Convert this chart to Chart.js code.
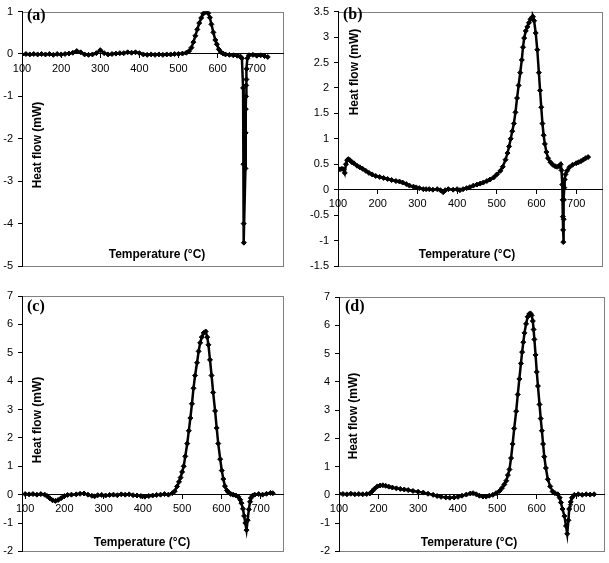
<!DOCTYPE html>
<html>
<head>
<meta charset="utf-8">
<script src="https://cdn.jsdelivr.net/npm/chart.js@4.4.0/dist/chart.umd.min.js"></script>
<style>
  html, body { margin: 0; padding: 0; background: #fff; }
  #wrap { position: relative; width: 609px; height: 563px; }
  canvas { position: absolute; }
</style>
</head>
<body>
<div id="wrap">
  <canvas id="ca" style="left:0;top:0" width="305" height="281"></canvas>
  <canvas id="cb" style="left:305px;top:0" width="304" height="281"></canvas>
  <canvas id="cc" style="left:0;top:281px" width="305" height="282"></canvas>
  <canvas id="cd" style="left:305px;top:281px" width="304" height="282"></canvas>
</div>
<script>
// axis text
const xTitle = 'Temperature (°C)';
const yTitle = 'Heat flow (mW)';
const panelTags = ['(a)', '(b)', '(c)', '(d)'];

// tick labels
const xTicks = [100, 200, 300, 400, 500, 600, 700];
const aYTicks = [-5, -4, -3, -2, -1, 0, 1];
const bYTicks = [-1.5, -1, -0.5, 0, 0.5, 1, 1.5, 2, 2.5, 3, 3.5];
const cdYTicks = [-2, -1, 0, 1, 2, 3, 4, 5, 6, 7];

// (a)
const aTemp = [
  100,110,120,130,140,150,160,170,180,190,
  200,210,220,230,240,250,260,270,280,290,
  300,310,320,330,340,350,360,370,380,390,
  400,410,420,430,440,450,460,470,480,490,
  500,510,520,527,533,538,543,548,553,558,
  563,568,572,576,580,584,589,594,598,603,
  608,614,620,630,640,650,658,662,665,666,
  666.5,667,671,671.5,672,672.5,673,673.5,674,676,
  680,690,700,710,720,728];
const aFlow = [
  -0.01,0,-0.01,0,-0.01,0,-0.01,0,-0.02,0,
  -0.01,0,0.01,0.03,0.07,0.04,-0.01,-0.02,-0.01,0.02,
  0.09,0.02,-0.01,0,0.01,0.02,0.02,0.04,0.03,0.04,
  0.02,-0.01,-0.02,-0.01,-0.02,-0.01,-0.02,-0.01,-0.01,0,
  0,0.01,0.03,0.07,0.15,0.28,0.43,0.58,0.73,0.85,
  0.95,0.99,1.0,0.96,0.86,0.7,0.51,0.33,0.23,0.11,
  0.05,0.01,-0.01,-0.02,-0.03,-0.04,-0.06,-0.1,-0.8,-2.6,
  -4.0,-4.45,-2.7,-1.86,-1.3,-1.0,-0.74,-0.6,-0.35,-0.1,
  -0.03,-0.02,-0.04,-0.03,-0.05,-0.07];

// (b)
const bTemp = [
  100,105,110,114,117,120,123,126,130,135,
  140,148,155,162,170,178,186,195,205,215,
  225,235,246,255,263,272,280,290,297,305,
  315,322,330,339,350,358,365,370,378,390,
  400,407,415,424,432,441,450,458,466,475,
  483,492,500,509,515,522,527,531,535,539,
  543,547,551,555,559,563,566,569,573,577,
  581,585,589,591,594,598,602,606,609,612,
  615,618,621,625,629,635,641,647,652,657,
  661,663,665,666,666.5,667,667.5,668.5,669,670,
  671,673,677,683,691,700,706,712,718,724,
  730];
const bFlow = [
  0.4,0.4,0.41,0.4,0.33,0.5,0.58,0.6,0.58,0.54,
  0.52,0.47,0.44,0.41,0.37,0.33,0.3,0.27,0.25,0.23,
  0.21,0.19,0.17,0.16,0.14,0.11,0.08,0.06,0.045,0.03,
  0.01,0.01,0.01,0,0.01,-0.01,-0.05,-0.01,0.01,0,
  0.01,-0.01,0.01,0.03,0.05,0.08,0.1,0.12,0.14,0.17,
  0.2,0.24,0.3,0.37,0.45,0.59,0.72,0.85,1.0,1.15,
  1.3,1.52,1.8,2.05,2.3,2.55,2.8,2.98,3.12,3.2,
  3.28,3.35,3.39,3.4,3.32,3.08,2.75,2.3,1.95,1.62,
  1.3,1.07,0.9,0.74,0.62,0.54,0.49,0.46,0.45,0.46,
  0.5,0.38,0.1,-0.2,-0.53,-0.79,-1.03,-0.58,-0.2,0.04,
  0.2,0.3,0.37,0.44,0.49,0.52,0.54,0.56,0.59,0.62,
  0.64];

// (c)
const cTemp = [
  100,110,120,130,140,150,156,163,170,177,
  184,192,200,208,218,230,240,250,260,270,
  277,285,295,305,315,325,335,345,355,365,
  375,385,395,405,415,425,435,445,455,465,
  475,481,487,492,496,500,504,508,513,517,
  521,525,529,533,538,542,546,550,555,560,
  564,567,571,575,579,584,588,592,597,601,
  605,609,614,618,624,630,637,643,648,651,
  655,658,661,664,667,670,673,675,680,685,
  695,705,715,725,731];
const cFlow = [
  0.02,0.01,0.02,0,0.02,0,-0.05,-0.13,-0.2,-0.22,
  -0.19,-0.12,-0.05,-0.01,0,0.01,0.03,0.04,0,-0.04,
  -0.06,-0.02,-0.01,-0.03,-0.01,0,-0.02,0.01,0,0.01,
  -0.02,-0.03,-0.05,-0.07,-0.05,-0.03,-0.01,0,0.02,0,
  0.05,0.12,0.29,0.45,0.6,0.8,1.0,1.35,1.8,2.25,
  2.7,3.2,3.75,4.2,4.65,5.05,5.35,5.55,5.7,5.75,
  5.55,5.28,4.75,4.2,3.6,2.95,2.35,1.8,1.25,0.85,
  0.55,0.3,0.15,0.08,0.02,0,-0.03,-0.07,-0.18,-0.3,
  -0.5,-0.75,-1.0,-1.25,-0.9,-0.52,-0.25,-0.12,-0.03,0,
  0.02,0,0.03,0.06,0.05];

// (d)
const dTemp = [
  100,110,120,130,140,150,160,170,178,184,
  190,197,204,211,218,226,235,245,255,265,
  275,287,300,313,325,338,348,358,370,380,
  391,401,411,422,432,439,447,455,464,472,
  480,489,497,506,512,518,523,527,531,535,
  539,543,548,552,556,560,563,566,569,573,
  577,581,584,587,590,592,594,597,600,603,
  607,610,613,616,619,623,628,634,640,646,
  653,658,661,665,670,674,677,680,682,686,
  689,695,705,715,725,735,745];
const dFlow = [
  0.04,0.03,0.02,0.04,0.02,0.03,0.02,0.03,0.05,0.13,
  0.22,0.3,0.33,0.34,0.32,0.29,0.26,0.23,0.21,0.19,
  0.17,0.14,0.11,0.08,0.04,0,-0.04,-0.07,-0.09,-0.1,
  -0.09,-0.07,-0.03,0.01,0.05,0.06,0.02,-0.03,-0.06,-0.06,
  -0.03,0,0.06,0.14,0.24,0.37,0.5,0.7,0.9,1.3,
  1.8,2.35,2.96,3.55,4.1,4.65,5.05,5.4,5.73,6.05,
  6.3,6.4,6.42,6.35,6.15,5.85,5.5,4.95,4.35,3.85,
  3.2,2.7,2.27,1.8,1.35,0.95,0.55,0.3,0.12,0.06,
  0.02,-0.1,-0.27,-0.5,-0.75,-1.1,-1.38,-0.9,-0.5,-0.25,
  -0.1,0,0.02,0,0.02,0.01,0.02];

// frame round the plot area, panel letter and the two axis titles
const panelDecor = {
  id: 'panelDecor',
  beforeDraw(chart) {
    const { ctx, chartArea: a } = chart;
    ctx.save();
    ctx.strokeStyle = '#808080';
    ctx.lineWidth = 1;
    ctx.strokeRect(Math.round(a.left) + 0.5, Math.round(a.top) + 0.5,
      Math.round(a.right - a.left), Math.round(a.bottom - a.top));
    ctx.restore();
  },
  afterDraw(chart, args, o) {
    const ctx = chart.ctx;
    ctx.save();
    ctx.fillStyle = '#000';
    ctx.font = 'bold 16px "Liberation Serif"';
    ctx.textAlign = 'left';
    ctx.textBaseline = 'top';
    ctx.fillText(o.tag, o.tagX, o.tagY);
    ctx.font = 'bold 12px "Liberation Sans"';
    ctx.textAlign = 'center';
    ctx.textBaseline = 'middle';
    ctx.fillText(xTitle, o.xtX, o.xtY);
    ctx.translate(o.ytX, o.ytY);
    ctx.rotate(-Math.PI / 2);
    ctx.fillText(yTitle, 0, 0);
    ctx.restore();
  }
};

function makeChart(id, temps, flows, xMin, xMax, yTicks, yWidth, pad, decor) {
  const ctx = document.getElementById(id).getContext('2d');
  return new Chart(ctx, {
    type: 'line',
    data: {
      datasets: [{
        data: temps.map((t, i) => ({ x: t, y: flows[i] })),
        borderColor: '#000',
        borderWidth: 2.5,
        backgroundColor: '#000',
        pointStyle: 'rectRot',
        pointRadius: 2.5,
        pointBorderWidth: 1,
        pointBackgroundColor: '#000',
        pointBorderColor: '#000',
        tension: 0,
      }],
    },
    options: {
      responsive: false,
      animation: false,
      layout: { padding: pad },
      plugins: {
        legend: { display: false },
        tooltip: { enabled: false },
        panelDecor: decor,
      },
      scales: {
        x: {
          type: 'linear',
          position: { y: 0 },
          min: xMin,
          max: xMax,
          afterBuildTicks: (scale) => { scale.ticks = xTicks.map(v => ({ value: v })); },
          ticks: {
            color: '#000',
            font: { family: 'Liberation Sans', size: 11 },
            padding: 4,
            maxRotation: 0,
            autoSkip: false,
          },
          grid: { drawOnChartArea: false, drawTicks: true, tickLength: 4, color: '#000' },
          border: { color: '#000', width: 1 },
        },
        y: {
          type: 'linear',
          position: 'left',
          min: yTicks[0],
          max: yTicks[yTicks.length - 1],
          afterBuildTicks: (scale) => { scale.ticks = yTicks.map(v => ({ value: v })); },
          afterFit: (scale) => { scale.width = yWidth; },
          ticks: {
            color: '#000',
            font: { family: 'Liberation Sans', size: 11 },
            padding: 5,
            callback: (v) => String(v),
            autoSkip: false,
          },
          grid: { drawOnChartArea: false, drawTicks: true, tickLength: 4, color: '#000' },
          border: { color: '#000', width: 1 },
        },
      },
    },
    plugins: [panelDecor],
  });
}

makeChart('ca', aTemp, aFlow, 100, 767, aYTicks, 22,
  { left: 0, top: 7, right: 22, bottom: 15 },
  { tag: panelTags[0], tagX: 27, tagY: 8, xtX: 157, xtY: 255, ytX: 38, ytY: 145 });
makeChart('cb', bTemp, bFlow, 100, 765, bYTicks, 33,
  { left: 0, top: 7, right: 7, bottom: 15 },
  { tag: panelTags[1], tagX: 38, tagY: 7, xtX: 162, xtY: 255, ytX: 50, ytY: 72 });
makeChart('cc', cTemp, cFlow, 92, 757, cdYTicks, 22,
  { left: 0, top: 15, right: 22, bottom: 10 },
  { tag: panelTags[2], tagX: 27, tagY: 18, xtX: 142, xtY: 262, ytX: 38, ytY: 139 });
makeChart('cd', dTemp, dFlow, 100, 770, cdYTicks, 34,
  { left: 0, top: 16, right: 4, bottom: 10 },
  { tag: panelTags[3], tagX: 40, tagY: 18, xtX: 164, xtY: 262, ytX: 49, ytY: 135 });
</script>
</body>
</html>
